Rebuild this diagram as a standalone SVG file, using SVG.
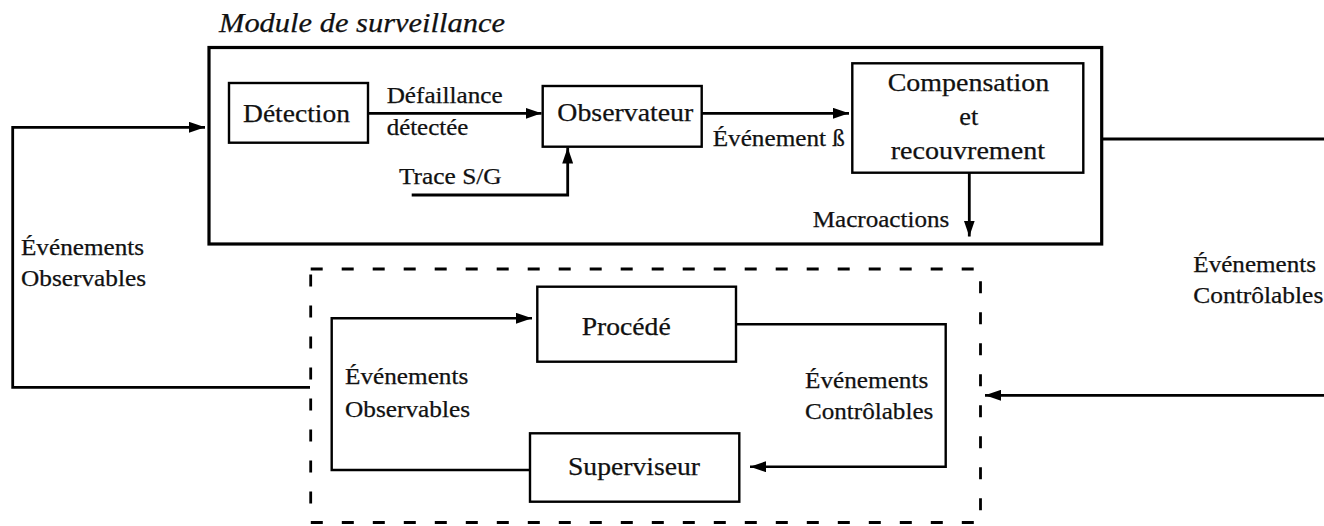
<svg xmlns="http://www.w3.org/2000/svg" width="1324" height="526" viewBox="0 0 1324 526">
  <style>
    .box { fill: #fff; stroke: #000; stroke-width: 2.4; }
    .frame { fill: none; stroke: #000; stroke-width: 3.2; }
    .dashed { fill: none; stroke: #000; stroke-width: 2.8; stroke-dasharray: 12 19; }
    .link { fill: none; stroke: #000; stroke-width: 2.8; }
    .link-thin { fill: none; stroke: #000; stroke-width: 2.4; }
    text { font-family: "Liberation Serif", "Times New Roman", serif; fill: #111; stroke: #111; stroke-width: 0.25; font-size: 23px; }
    .node { font-size: 25px; }
    .title { font-style: italic; font-size: 27px; }
  </style>
  <defs>
    <marker id="arrow" markerUnits="userSpaceOnUse" markerWidth="16" markerHeight="11" refX="16" refY="5.5" orient="auto">
      <path d="M0,0 L16,5.5 L0,11 z" fill="#000"/>
    </marker>
  </defs>

  <!-- Surveillance module frame -->
  <g id="module-surveillance">
    <rect class="frame" x="209" y="47.5" width="892.7" height="196.5"/>
    <text class="title" x="219" y="32" textLength="286" lengthAdjust="spacingAndGlyphs">Module de surveillance</text>
  </g>

  <!-- Supervised system container -->
  <g id="systeme-supervise">
    <rect class="dashed" x="310.7" y="269" width="669.8" height="253.5"/>
  </g>

  <g id="detection">
    <rect class="box" x="229" y="83" width="139" height="59.7"/>
    <text class="node" x="243" y="121.7" textLength="107" lengthAdjust="spacingAndGlyphs">Détection</text>
  </g>

  <g id="observateur">
    <rect class="box" x="542.7" y="86" width="159" height="60.7"/>
    <text class="node" x="557.3" y="121" textLength="136" lengthAdjust="spacingAndGlyphs">Observateur</text>
  </g>

  <g id="compensation">
    <rect class="box" x="852.3" y="63.3" width="231" height="109.4"/>
    <text class="node" x="887.7" y="90.7" textLength="161.6" lengthAdjust="spacingAndGlyphs">Compensation</text>
    <text class="node" x="959.3" y="125" textLength="19" lengthAdjust="spacingAndGlyphs">et</text>
    <text class="node" x="890.7" y="159.3" textLength="154.3" lengthAdjust="spacingAndGlyphs">recouvrement</text>
  </g>

  <g id="procede">
    <rect class="box" x="537.3" y="286.7" width="198.7" height="75"/>
    <text class="node" x="581.7" y="335" textLength="89" lengthAdjust="spacingAndGlyphs">Procédé</text>
  </g>

  <g id="superviseur">
    <rect class="box" x="530" y="433.3" width="209.3" height="68.4"/>
    <text class="node" x="568" y="475" textLength="132" lengthAdjust="spacingAndGlyphs">Superviseur</text>
  </g>

  <!-- Connectors -->
  <g id="connectors">
    <path class="link" d="M310,387.3 H12.7 V127.3 H205" marker-end="url(#arrow)"/>
    <path class="link" d="M368,113.3 H541.5" marker-end="url(#arrow)"/>
    <path class="link" d="M411.7,195 H567.7 V147.5" marker-end="url(#arrow)"/>
    <path class="link" d="M701.7,113.3 H849" marker-end="url(#arrow)"/>
    <path class="link" d="M969.3,172.7 V236.5" marker-end="url(#arrow)"/>
    <path class="link" d="M1101.7,139 H1330 V395.3 H985" marker-end="url(#arrow)"/>
    <path class="link-thin" d="M530,470 H331.7 V318.3 H532" marker-end="url(#arrow)"/>
    <path class="link-thin" d="M736,324.3 H945.7 V466.7 H750" marker-end="url(#arrow)"/>
  </g>

  <!-- Connector labels -->
  <g id="labels">
    <text x="386.7" y="103.3" textLength="116" lengthAdjust="spacingAndGlyphs">Défaillance</text>
    <text x="386.7" y="135" textLength="81.6" lengthAdjust="spacingAndGlyphs">détectée</text>
    <text x="399" y="184.3" textLength="102.7" lengthAdjust="spacingAndGlyphs">Trace S/G</text>
    <text x="712.7" y="146" textLength="132.3" lengthAdjust="spacingAndGlyphs">Événement ß</text>
    <text x="812.7" y="226.7" textLength="136.6" lengthAdjust="spacingAndGlyphs">Macroactions</text>
    <text x="21" y="255" textLength="123" lengthAdjust="spacingAndGlyphs">Événements</text>
    <text x="21" y="286" textLength="125" lengthAdjust="spacingAndGlyphs">Observables</text>
    <text x="1193.3" y="271.7" textLength="122.7" lengthAdjust="spacingAndGlyphs">Événements</text>
    <text x="1193.3" y="303.3" textLength="130" lengthAdjust="spacingAndGlyphs">Contrôlables</text>
    <text x="345" y="384.3" textLength="123.3" lengthAdjust="spacingAndGlyphs">Événements</text>
    <text x="345" y="416.7" textLength="125" lengthAdjust="spacingAndGlyphs">Observables</text>
    <text x="805" y="387.7" textLength="123.3" lengthAdjust="spacingAndGlyphs">Événements</text>
    <text x="805" y="419" textLength="128.3" lengthAdjust="spacingAndGlyphs">Contrôlables</text>
  </g>
</svg>
